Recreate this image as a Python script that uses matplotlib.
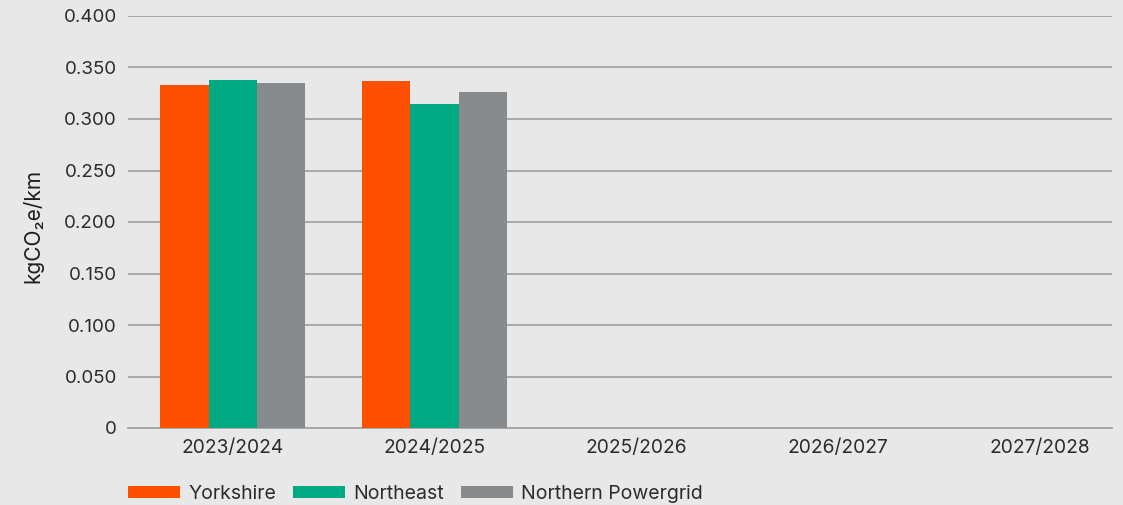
import numpy as np
import matplotlib.pyplot as plt
from matplotlib.patches import Patch

# Emissions per km travelled, by licence area
years = ['2023/2024', '2024/2025', '2025/2026', '2026/2027', '2027/2028']
yorkshire = [0.333, 0.337, np.nan, np.nan, np.nan]
northeast = [0.338, 0.315, np.nan, np.nan, np.nan]
northern_powergrid = [0.335, 0.326, np.nan, np.nan, np.nan]

series = ['Yorkshire', 'Northeast', 'Northern Powergrid']
colours = ['#ff5000', '#00a982', '#888b8d']

plt.rcParams['font.family'] = ['Inter', 'DejaVu Sans']
bg = '#e7e8e7'
grid_col = '#a3a4a4'
txt = '#2b2b2b'

fig = plt.figure(figsize=(11.23, 5.05), dpi=100, facecolor=bg)
ax = fig.add_axes([128 / 1123, 1 - 428 / 505, (1112 - 128) / 1123, (428 - 16) / 505])
ax.set_facecolor(bg)

x = np.arange(len(years))
w = 0.24
for i, (vals, col) in enumerate(zip([yorkshire, northeast, northern_powergrid], colours)):
    ax.bar(x + (i - 1) * w, vals, width=w, color=col, zorder=3)

ax.set_ylim(0, 0.4)
ax.set_xlim(-0.52, 4.36)
ax.set_yticks(np.arange(0, 0.401, 0.05))
ax.set_yticklabels(['0'] + [f'{v:.3f}' for v in np.arange(0.05, 0.401, 0.05)])
ax.set_xticks(x)
ax.set_xticklabels(years)
ax.yaxis.grid(True, color=grid_col, linewidth=1.3, zorder=0)
ax.tick_params(axis='y', length=0, pad=8, labelsize=13.5, labelcolor=txt)
ax.tick_params(axis='x', length=0, pad=8, labelsize=13.8, labelcolor=txt)
for side in ['top', 'right', 'left']:
    ax.spines[side].set_visible(False)
ax.spines['bottom'].set_color(grid_col)
ax.spines['bottom'].set_linewidth(1.3)

fig.text(33 / 1123, 1 - 226 / 505, 'kgCO\u2082e/km', rotation=90, ha='center', va='center',
         fontsize=15, color='#1e1e1e')

handles = [Patch(facecolor=c, edgecolor='none') for c in colours]
fig.legend(handles, series, loc='center left', bbox_to_anchor=(128 / 1123, 1 - 494 / 505),
           ncol=3, frameon=False, fontsize=14, handlelength=2.68, handleheight=0.52,
           handletextpad=0.41, columnspacing=0.88, borderpad=0, borderaxespad=0,
           labelcolor=txt)

fig.savefig('out.png', dpi=100, facecolor=bg)
